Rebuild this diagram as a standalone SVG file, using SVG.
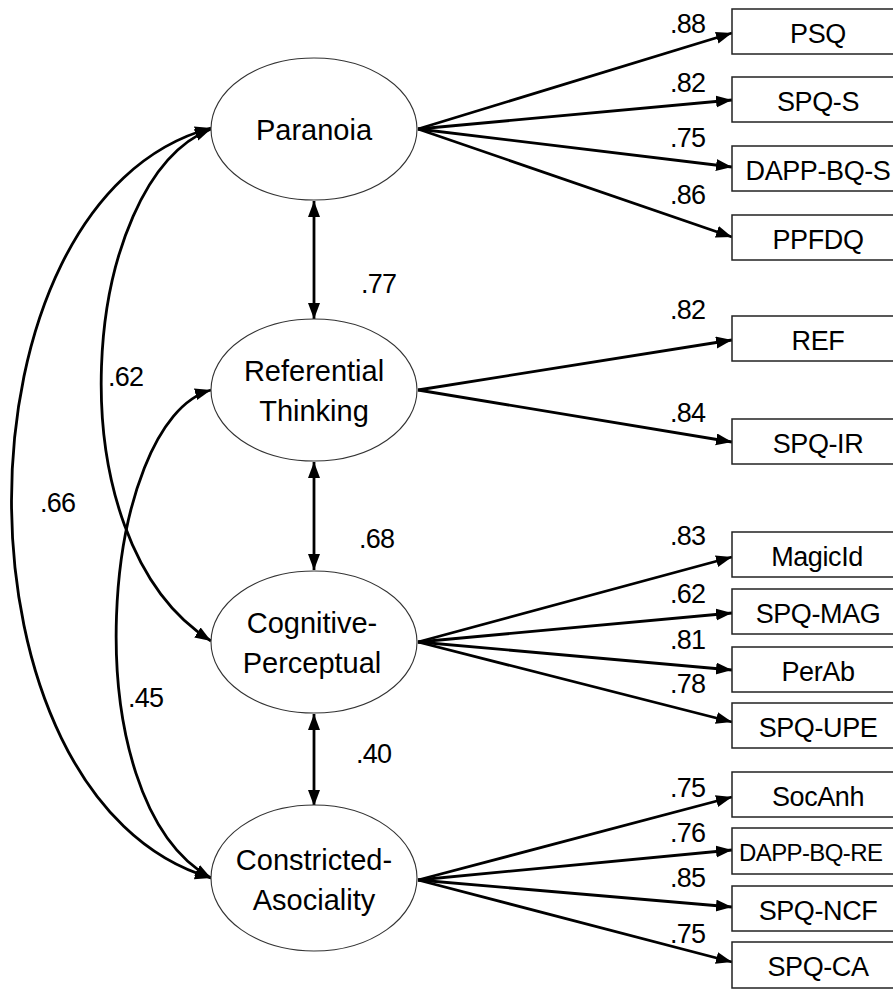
<svg xmlns="http://www.w3.org/2000/svg" width="893" height="990" viewBox="0 0 893 990">
<defs>
<marker id="ah" markerUnits="userSpaceOnUse" markerWidth="17" markerHeight="13" refX="16" refY="6" orient="auto-start-reverse">
<path d="M0,0 L16,6 L0,12 z" fill="#000"/>
</marker>
<style>
.lat{fill:#fff;stroke:#333;stroke-width:1.1}
.box{fill:#fff;stroke:#222;stroke-width:1.5}
.lt{font-family:"Liberation Sans",Arial,sans-serif;font-size:29px;fill:#000;text-anchor:middle}
.bt{font-family:"Liberation Sans",Arial,sans-serif;font-size:27px;letter-spacing:-0.4px;fill:#000;text-anchor:middle}
.nl{font-family:"Liberation Sans",Arial,sans-serif;font-size:27px;letter-spacing:-0.8px;fill:#000}
.c{fill:none;stroke:#000;stroke-width:2.8;marker-end:url(#ah)}
.d{fill:none;stroke:#000;stroke-width:2.8;marker-end:url(#ah);marker-start:url(#ah)}
</style>
</defs>
<rect width="893" height="990" fill="#fff"/>
<g id="connectors">
<path class="c" d="M418,129 L732,33"/>
<path class="c" d="M418,129 L732,100"/>
<path class="c" d="M418,129 L732,167"/>
<path class="c" d="M418,129 L732,237"/>
<path class="c" d="M418,390 L732,340"/>
<path class="c" d="M418,390 L732,442"/>
<path class="c" d="M418,642 L732,557"/>
<path class="c" d="M418,642 L732,613"/>
<path class="c" d="M418,642 L732,670"/>
<path class="c" d="M418,642 L732,722"/>
<path class="c" d="M418,880 L732,797"/>
<path class="c" d="M418,880 L732,850"/>
<path class="c" d="M418,880 L732,907"/>
<path class="c" d="M418,880 L732,962"/>
<path class="d" d="M314,201 L314,319"/>
<path class="d" d="M314,462 L314,570"/>
<path class="d" d="M314,714 L314,806"/>
<path class="d" d="M211,128 C-55,200 -55,800 211,878"/>
<path class="d" d="M211,129 C80,180 50,540 211,641"/>
<path class="d" d="M211,390 C100,420 70,800 211,878"/>
<text class="nl" x="670" y="33">.88</text>
<text class="nl" x="670" y="92">.82</text>
<text class="nl" x="670" y="147">.75</text>
<text class="nl" x="670" y="204">.86</text>
<text class="nl" x="670" y="319">.82</text>
<text class="nl" x="670" y="422">.84</text>
<text class="nl" x="670" y="545">.83</text>
<text class="nl" x="670" y="603">.62</text>
<text class="nl" x="670" y="649">.81</text>
<text class="nl" x="670" y="693">.78</text>
<text class="nl" x="670" y="797">.75</text>
<text class="nl" x="670" y="842">.76</text>
<text class="nl" x="670" y="887">.85</text>
<text class="nl" x="670" y="943">.75</text>
<text class="nl" x="361" y="293">.77</text>
<text class="nl" x="359" y="548">.68</text>
<text class="nl" x="356" y="763">.40</text>
<text class="nl" x="108" y="386">.62</text>
<text class="nl" x="40" y="512">.66</text>
<text class="nl" x="128" y="707">.45</text>
</g>
<g id="paranoia"><ellipse class="lat" cx="314" cy="129" rx="103" ry="71"/><text class="lt" x="314" y="140">Paranoia</text></g>
<g id="referential"><ellipse class="lat" cx="314" cy="390" rx="103" ry="71"/><text class="lt" x="314" y="381">Referential</text><text class="lt" x="314" y="421">Thinking</text></g>
<g id="cognitive"><ellipse class="lat" cx="314" cy="642" rx="103" ry="71"/><text class="lt" x="312" y="633">Cognitive-</text><text class="lt" x="312" y="673">Perceptual</text></g>
<g id="constricted"><ellipse class="lat" cx="314" cy="878" rx="103" ry="73"/><text class="lt" x="314" y="870">Constricted-</text><text class="lt" x="314" y="910">Asociality</text></g>
<g id="psq"><rect class="box" x="732" y="9" width="175" height="45"/><text class="bt" x="818" y="43">PSQ</text></g>
<g id="spq-s"><rect class="box" x="732" y="77" width="175" height="45"/><text class="bt" x="818" y="111">SPQ-S</text></g>
<g id="dapp-bq-s"><rect class="box" x="732" y="146" width="175" height="45"/><text class="bt" x="818" y="180">DAPP-BQ-S</text></g>
<g id="ppfdq"><rect class="box" x="732" y="215" width="175" height="45"/><text class="bt" x="818" y="249">PPFDQ</text></g>
<g id="ref"><rect class="box" x="732" y="316" width="175" height="45"/><text class="bt" x="818" y="350">REF</text></g>
<g id="spq-ir"><rect class="box" x="732" y="419" width="175" height="45"/><text class="bt" x="818" y="453">SPQ-IR</text></g>
<g id="magicid"><rect class="box" x="732" y="532" width="175" height="45"/><text class="bt" x="817" y="566">MagicId</text></g>
<g id="spq-mag"><rect class="box" x="732" y="589" width="175" height="45"/><text class="bt" x="818" y="623">SPQ-MAG</text></g>
<g id="perab"><rect class="box" x="732" y="647" width="175" height="45"/><text class="bt" x="818" y="681">PerAb</text></g>
<g id="spq-upe"><rect class="box" x="732" y="703" width="175" height="45"/><text class="bt" x="818" y="737">SPQ-UPE</text></g>
<g id="socanh"><rect class="box" x="732" y="772" width="175" height="45"/><text class="bt" x="818" y="806">SocAnh</text></g>
<g id="dapp-bq-re"><rect class="box" x="732" y="828" width="175" height="46"/><text class="bt" x="739" y="861" style="text-anchor:start;font-size:24px;letter-spacing:-0.6px">DAPP-BQ-RE</text></g>
<g id="spq-ncf"><rect class="box" x="732" y="886" width="175" height="45"/><text class="bt" x="818" y="920">SPQ-NCF</text></g>
<g id="spq-ca"><rect class="box" x="732" y="942" width="175" height="46"/><text class="bt" x="818" y="976">SPQ-CA</text></g>
</svg>
